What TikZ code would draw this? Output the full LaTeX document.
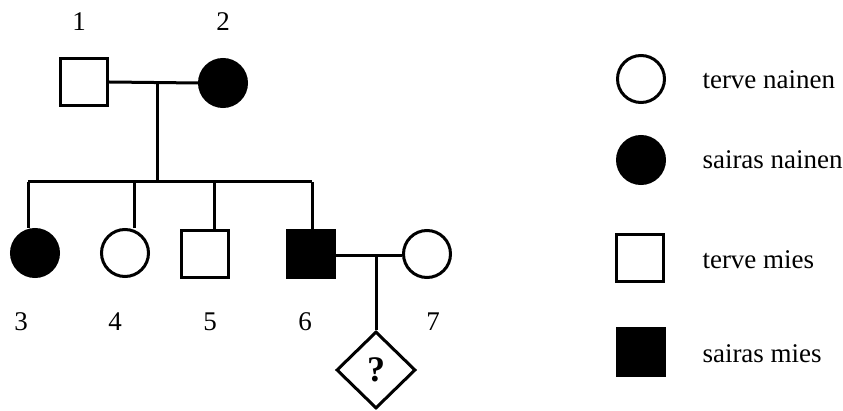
\documentclass[tikz,border=0pt]{standalone}
\usepackage{fontspec}
\setmainfont{Liberation Serif}
\usetikzlibrary{shapes.geometric}
\begin{document}
\begin{tikzpicture}[x=1pt,y=-1pt,line width=3pt,
  fem/.style={circle,draw,minimum size=47pt,inner sep=0pt},
  femA/.style={fem,fill=black},
  mal/.style={rectangle,draw,minimum size=47pt,inner sep=0pt},
  malA/.style={mal,fill=black},
  unk/.style={diamond,draw,minimum width=79pt,minimum height=77pt,inner sep=0pt,font=\fontsize{36}{38}\selectfont\bfseries},
  num/.style={font=\fontsize{27}{29}\selectfont,inner sep=0pt},
  leg/.style={font=\fontsize{27}{29}\selectfont,anchor=west,inner sep=0pt}]
\useasboundingbox (0,0) rectangle (843,411);
% generation I
\node[mal]  (p1) at (84,82) {};
\node[femA] (p2) at (223,83) {};
\node[num] (l1) at (79,22) {1};
\node[num] (l2) at (223,22) {2};
\draw (p1.east) -- (p2.west);
\coordinate (m12) at (157,83);
\coordinate (s12) at (157,182);
\draw (m12) -- (s12);
% sibship
\coordinate (sL) at (28,182);
\coordinate (d4) at (134,182);
\coordinate (d5) at (214,182);
\coordinate (sR) at (312,182);
\draw (sL) -- (sR);
% generation II
\node[femA] (c3) at (35,253) {};
\node[fem]  (c4) at (125,253) {};
\node[mal]  (c5) at (205,254) {};
\node[malA] (c6) at (311,254) {};
\node[fem]  (c7) at (427,254) {};
\draw (sL) -- (sL |- c3.north);
\draw (d4) -- (d4 |- c4.north);
\draw (d5) -- (d5 |- c5.north);
\draw (sR) -- (sR |- c6.north);
\node[num] (l3) at (21,322) {3};
\node[num] (l4) at (115,322) {4};
\node[num] (l5) at (210,322) {5};
\node[num] (l6) at (305,322) {6};
\node[num] (l7) at (433,322) {7};
\draw (c6.east |- 0,256) -- (c7.west |- 0,256);
\coordinate (m67) at (376,256);
\node[unk] (q) at (376,370) {?};
\draw (m67) -- (q.north);
% legend
\node[fem]  (k1) at (641,79) {};
\node[femA] (k2) at (641,160) {};
\node[mal]  (k3) at (640,258) {};
\node[malA] (k4) at (641,352) {};
\node[leg] (t1) at (701,80) {terve nainen};
\node[leg] (t2) at (701,160) {sairas nainen};
\node[leg] (t3) at (701,260) {terve mies};
\node[leg] (t4) at (701,354) {sairas mies};
\end{tikzpicture}
\end{document}
